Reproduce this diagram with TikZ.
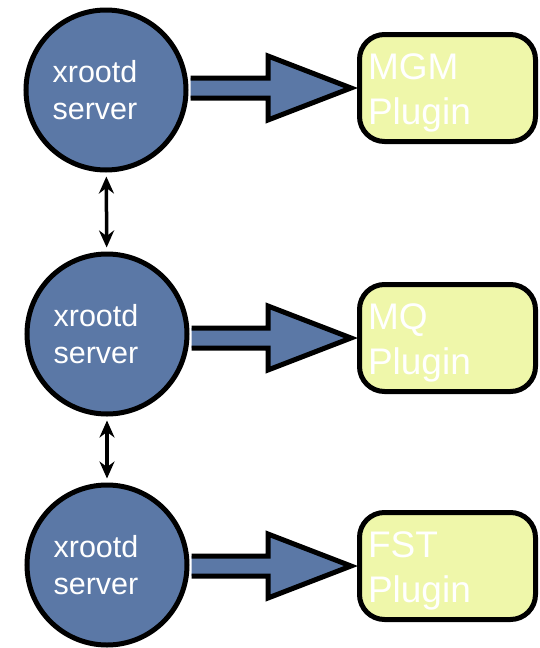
\documentclass[tikz,border=0pt]{standalone}
\usepackage{fontspec}
\setmainfont{Liberation Sans}
\usetikzlibrary{calc,arrows.meta}
\definecolor{srvblue}{RGB}{91,120,166}
\definecolor{plugyellow}{RGB}{239,247,170}
\tikzset{
  server/.style={circle, draw, line width=5pt, fill=srvblue, minimum size=160pt, inner sep=0pt},
  srvlabel/.style={text=white, align=left, font=\fontsize{30.5}{37}\selectfont, xshift=-11pt},
  plugin/.style={draw, line width=5pt, fill=plugyellow, rounded corners=25pt, minimum width=176pt,
    minimum height=107pt},
  plugtext/.style={text=white, text width=159pt, align=left, yshift=-5pt, inner sep=0pt,
    font=\fontsize{37}{45}\selectfont},
  flow/.style={draw, line width=5pt, fill=srvblue, line join=miter},
  link/.style={line width=3.5pt, {Stealth[length=17pt,width=15pt]}-{Stealth[length=17pt,width=15pt]},
    shorten <=4pt, shorten >=4pt}
}

\begin{document}
\begin{tikzpicture}[x=1pt, y=-1pt]
\useasboundingbox (0,0) rectangle (539,648);
\node[plugin, label={[plugtext]center:{MGM\\Plugin}}] (p1) at (447.5,88) {};
\node[plugin, label={[plugtext]center:{MQ\\Plugin}}] (p2) at (447.5,338) {};
\node[plugin, label={[plugtext]center:{FST\\Plugin}}] (p3) at (447.5,566) {};
\node[server, label={[srvlabel]center:{xrootd\\server}}] (s1) at (106,90) {};
\node[server, label={[srvlabel]center:{xrootd\\server}}] (s2) at (107,334) {};
\node[server, label={[srvlabel]center:{xrootd\\server}}] (s3) at (107,565) {};
\foreach \i in {1,2,3}{
  \draw[flow] ($(s\i.east |- p\i.west)+(2,10)$) -- ($(p\i.west)+(-89,10)$) -- ($(p\i.west)+(-89,32)$)
    -- ($(p\i.west)+(-6,0)$) -- ($(p\i.west)+(-89,-32)$) -- ($(p\i.west)+(-89,-10)$)
    -- ($(s\i.east |- p\i.west)+(2,-10)$);
}
\draw[link] (s1) -- (s2);
\draw[link] (s2) -- (s3);
\end{tikzpicture}
\end{document}
